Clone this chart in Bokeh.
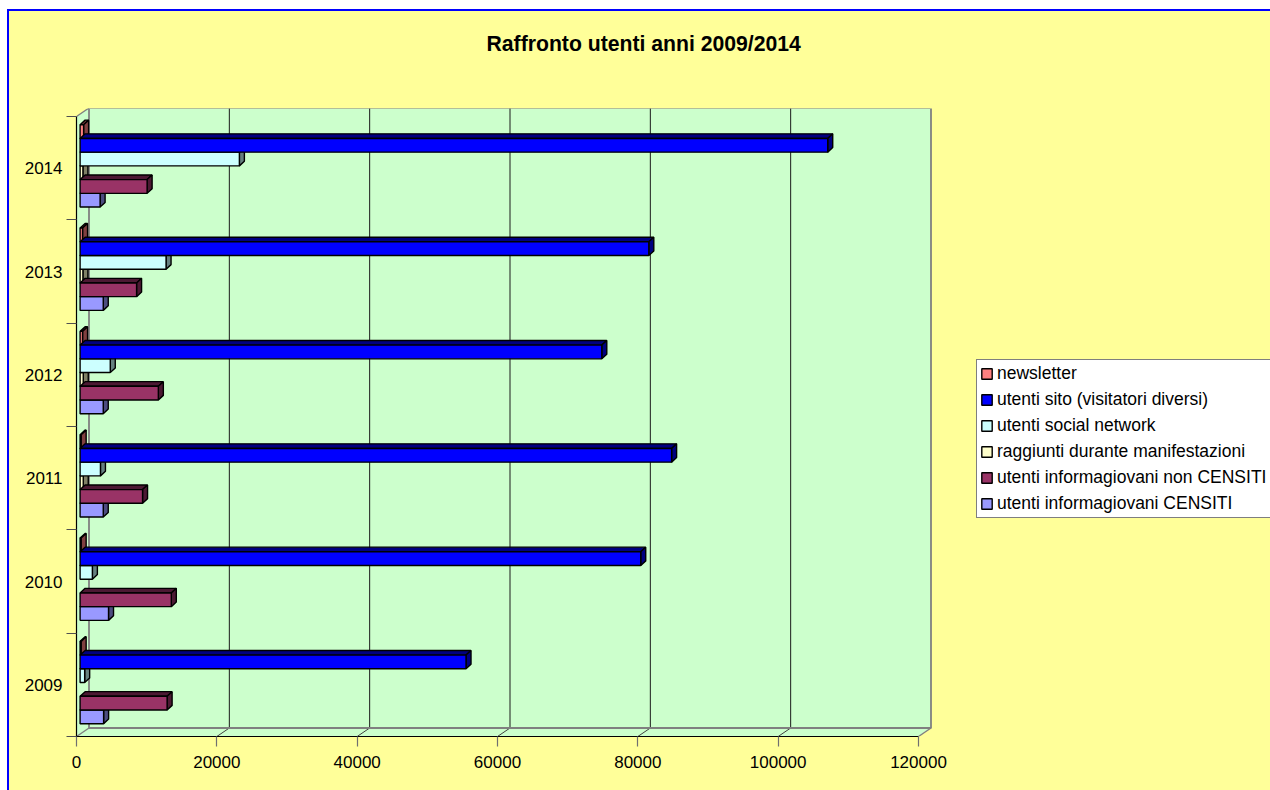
from bokeh.plotting import figure
from bokeh.models import (FixedTicker, Legend, LegendItem, ColumnDataSource, Title, NumeralTickFormatter)
from bokeh.embed import file_html
from bokeh.resources import INLINE

years = ["2009", "2010", "2011", "2012", "2013", "2014"]
series = ["newsletter", "utenti sito (visitatori diversi)", "utenti social network",
          "raggiunti durante manifestazioni", "utenti informagiovani non CENSITI",
          "utenti informagiovani CENSITI"]
newsletter = [150, 150, 150, 350, 350, 500]
sito = [55000, 79900, 84300, 74350, 81050, 106550]
social = [650, 1750, 2900, 4300, 12250, 22700]
raggiunti = [0, 0, 450, 450, 400, 400]
non_censiti = [12400, 13000, 8900, 11150, 8050, 9550]
censiti = [3350, 4050, 3300, 3300, 3300, 2850]
values = [newsletter, sito, social, raggiunti, non_censiti, censiti]
front = ["#FF8080", "#0000FF", "#CCFFFF", "#FFFFCC", "#993366", "#9999FF"]
shade = ["#803F40", "#000080", "#668080", "#808066", "#4C1933", "#4C4C80"]
x_ticks = [0, 20000, 40000, 60000, 80000, 100000, 120000]

# layout of the pseudo-3D box, in data units
PXX = 120000 / 842.0          # value units per pixel
PXY = 1 / 103.33              # category units per pixel
WALL_X, WALL_Y = 12.5 * PXX, 8.5 * PXY
BAR0_X, BAR0_Y = 3.6 * PXX, 2.3 * PXY
BAR_DX, BAR_DY = 5 * PXX, 4.6 * PXY
BAR_H = 13.72 * PXY
X_END = 1196 * PXX
Y_END = 628 * PXY
FONT = "Liberation Sans"

p = figure(width=1263, height=781, output_backend="svg", toolbar_location=None,
           x_range=(0, X_END), y_range=(0, Y_END),
           min_border_left=67, min_border_right=0, min_border_top=97, min_border_bottom=56,
           background_fill_color="#FFFF99", border_fill_color="#FFFF99", outline_line_color=None,
           styles={"margin-left": "7px", "margin-top": "9px", "background-color": "#FFFF99",
                   "border-left": "2px solid #0000FF", "border-top": "2px solid #0000FF"})
p.grid.visible = False

p.add_layout(Title(text=" ", text_font_size="10px", standoff=36), "above")
p.title = Title(text="Raffronto utenti anni 2009/2014", text_font=FONT, text_font_size="21.2px",
                text_font_style="bold", text_color="#000000", align="left", offset=410)

# walls
p.patch([0, 120000, 120000 + WALL_X, 120000 + WALL_X, WALL_X, 0],
        [0, 0, WALL_Y, 6 + WALL_Y, 6 + WALL_Y, 6],
        fill_color="#CCFFCC", line_color=None)
gx = [t + WALL_X for t in x_ticks[1:-1]]
p.segment(gx, [WALL_Y] * 5, gx, [6 + WALL_Y] * 5, line_color="#1A1A1A", line_width=1)
p.segment(x_ticks[1:-1], [0] * 5, gx, [WALL_Y] * 5, line_color="#404040", line_width=1)
p.patch([WALL_X, 120000 + WALL_X, 120000 + WALL_X, WALL_X],
        [WALL_Y, WALL_Y, 6 + WALL_Y, 6 + WALL_Y],
        fill_color=None, line_color="#808080", line_width=1.8)
p.segment([0, 0, 120000], [0, 6, 0], [WALL_X, WALL_X, 120000 + WALL_X],
          [WALL_Y, 6 + WALL_Y, WALL_Y], line_color="#808080", line_width=1.4)

# bars: painted year by year from the top, shorter bars first
xs, ys, fills = [], [], []
legend_index = {}
for i in range(5, -1, -1):
    centre = i + 0.5 + BAR0_Y
    order = sorted(range(6), key=lambda s: values[s][i])
    for s in order:
        v = values[s][i]
        if v <= 0:
            continue
        top = centre + 3 * BAR_H - s * BAR_H
        bot = top - BAR_H
        x0, x1 = BAR0_X, BAR0_X + v
        xs.append([x0, x1, x1 + BAR_DX, x0 + BAR_DX])
        ys.append([top, top, top + BAR_DY, top + BAR_DY])
        fills.append(shade[s])
        xs.append([x1, x1 + BAR_DX, x1 + BAR_DX, x1])
        ys.append([bot, bot + BAR_DY, top + BAR_DY, top])
        fills.append(shade[s])
        legend_index.setdefault(s, len(xs))
        xs.append([x0, x1, x1, x0])
        ys.append([bot, bot, top, top])
        fills.append(front[s])

src = ColumnDataSource(dict(xs=xs, ys=ys, fill=fills))
bars = p.patches("xs", "ys", source=src, fill_color="fill", line_color="#000000", line_width=1.4)

# axes
ax = p.xaxis[0]
ax.ticker = FixedTicker(ticks=x_ticks)
ax.formatter = NumeralTickFormatter(format="0")
ax.bounds = (0, 120000)
ax.axis_line_color = "#000000"
ax.axis_line_width = 1.2
ax.major_tick_in = 0
ax.major_tick_out = 10
ax.major_tick_line_color = "#707070"
ax.major_tick_line_width = 1.2
ax.minor_tick_line_color = None
ax.major_label_standoff = 9
ax.major_label_text_font = FONT
ax.major_label_text_font_size = "17px"
ax.major_label_text_color = "#000000"

ay = p.yaxis[0]
centres = [k + 0.5 for k in range(6)]
ay.ticker = FixedTicker(ticks=centres, minor_ticks=list(range(7)))
ay.major_label_overrides = {c: y for c, y in zip(centres, years)}
ay.bounds = (0, 6)
ay.axis_line_color = "#000000"
ay.axis_line_width = 1.2
ay.major_tick_line_color = None
ay.major_tick_in = 0
ay.major_tick_out = 0
ay.minor_tick_in = 0
ay.minor_tick_out = 10
ay.minor_tick_line_color = "#505050"
ay.minor_tick_line_width = 1.2
ay.major_label_standoff = 4
ay.major_label_text_font = FONT
ay.major_label_text_font_size = "17px"
ay.major_label_text_color = "#000000"

legend = Legend(items=[LegendItem(label=series[s], renderers=[bars], index=legend_index[s]) for s in range(6)],
                location=(900, 218), orientation="vertical",
                glyph_width=13, glyph_height=13, label_standoff=4, padding=3, spacing=5, margin=0,
                label_height=18, label_width=300, label_text_font=FONT, label_text_font_size="17.5px",
                label_text_color="#000000", background_fill_color="#FFFFFF", background_fill_alpha=1,
                border_line_color="#000000", border_line_width=1)
p.add_layout(legend, "center")

open("out.html", "w").write(file_html(p, INLINE))
